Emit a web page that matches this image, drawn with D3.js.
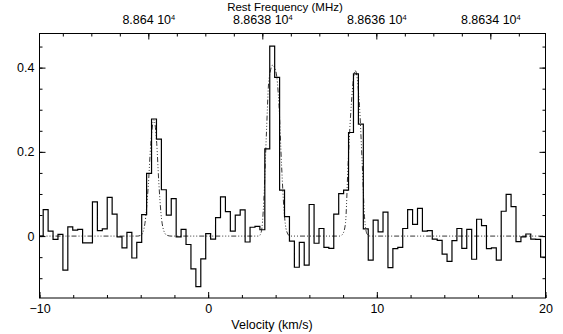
<!DOCTYPE html>
<html>
<head>
<meta charset="utf-8">
<script src="https://cdn.jsdelivr.net/npm/d3@7"></script>
<style>
  html, body { margin: 0; padding: 0; background: #fff; }
  svg text { font-family: "Liberation Sans", Arial, Helvetica, sans-serif; fill: #000; }
</style>
</head>
<body>
<svg id="chart" width="563" height="334"></svg>
<script>
// spectrum channels (km/s): first channel left edge and width
const chanStart = -10.073;
const chanWidth = 0.292;
const spectrum = [
  0.0, 0.063, 0.012, -0.008, 0.004, -0.081, 0.022, 0.014, 0.016, -0.016,
  -0.016, 0.081, 0.013, 0.017, 0.092, 0.052, -0.002, -0.028, 0.009, -0.052,
  -0.015, 0.051, 0.149, 0.278, 0.230, 0.110, 0.050, 0.089, -0.002, 0.016,
  -0.020, -0.078, -0.120, -0.054, 0.006, -0.007, 0.044, 0.093, 0.058, 0.012,
  0.050, 0.062, -0.014, 0.021, 0.023, 0.015, 0.207, 0.451, 0.377, 0.109,
  0.046, -0.012, -0.074, -0.015, -0.069, 0.075, -0.017, 0.018, -0.027, -0.029,
  0.052, 0.101, 0.109, 0.246, 0.385, 0.266, 0.017, -0.057, 0.038, 0.010,
  0.057, -0.075, -0.030, -0.027, 0.018, 0.063, 0.028, 0.066, 0.012, 0.013,
  -0.007, -0.010, -0.043, -0.060, -0.011, 0.018, -0.029, 0.016, -0.055, 0.040,
  0.025, -0.030, -0.028, -0.057, 0.059, 0.099, 0.070, -0.013, -0.002, 0.005,
  -0.007, -0.008, -0.050
];

// hyperfine fit
const fitVel = [
  -10, -4.2, -3.95, -3.75, -3.55, -3.4, -3.22, -3.05, -2.93, -2.8, -2.65, -2.45, -2.2,
  3.0, 3.15, 3.3, 3.45, 3.6, 3.83, 4.02, 4.2, 4.35, 4.5, 4.65, 4.85,
  7.8, 7.98, 8.14, 8.3, 8.45, 8.72, 8.97, 9.13, 9.28, 9.42, 9.6, 20
];
const fitVal = [
  0, 0, 0.003, 0.03, 0.12, 0.22, 0.276, 0.22, 0.13, 0.055, 0.015, 0.002, 0,
  0, 0.01, 0.085, 0.24, 0.37, 0.406, 0.39, 0.31, 0.17, 0.06, 0.012, 0,
  0, 0.005, 0.03, 0.175, 0.29, 0.393, 0.31, 0.175, 0.04, 0.005, 0, 0
];

const velTicks = [-10, 0, 10, 20];
const freqTicks = [88640, 88638, 88636, 88634];
const yTicks = [0, 0.2, 0.4];

const W = 563, H = 334;
const m = { left: 39.5, right: 17.5, top: 33.5, bottom: 36 };
const iw = W - m.left - m.right, ih = H - m.top - m.bottom;
const FS = 12.5;

const svg = d3.select('#chart');
const g = svg.append('g').attr('transform', `translate(${m.left},${m.top})`);

const x = d3.scaleLinear().domain([-10, 20]).range([0, iw]);
const xf = d3.scaleLinear().domain([88641.909, 88633.032]).range([0, iw]);
const y = d3.scaleLinear().domain([-0.147, 0.481]).range([ih, 0]);

g.append('clipPath').attr('id', 'clip')
  .append('rect').attr('width', iw).attr('height', ih);

// axes: inward ticks, major + minor
function styleAxis(sel) {
  sel.select('.domain').remove();
  sel.selectAll('line').attr('stroke', '#000').attr('stroke-width', 1);
  sel.selectAll('text').attr('font-size', FS);
}

const minorV = d3.range(-10, 20.01, 2);
g.append('g').attr('transform', `translate(0,${ih})`)
  .call(d3.axisBottom(x).tickValues(minorV).tickSize(-3).tickFormat(''))
  .call(styleAxis);
g.append('g').attr('transform', `translate(0,${ih})`)
  .call(d3.axisBottom(x).tickValues(velTicks).tickSize(-6).tickPadding(6)
    .tickFormat((d) => d < 0 ? '\u2212' + Math.abs(d) : d))
  .call(styleAxis);

const minorF = d3.range(88633.5, 88641.9, 0.5);
g.append('g')
  .call(d3.axisTop(xf).tickValues(minorF).tickSize(-3).tickFormat(''))
  .call(styleAxis);
const topAx = g.append('g')
  .call(d3.axisTop(xf).tickValues(freqTicks).tickSize(-6).tickPadding(10).tickFormat(''))
  .call(styleAxis);
topAx.selectAll('.tick text').each(function (d) {
  const t = d3.select(this);
  t.append('tspan').text(String(+(d / 1e4).toFixed(4)) + ' 10');
  t.append('tspan').attr('dy', -3.5).attr('font-size', 7.5).text('4');
});

const minorY = d3.range(-0.1, 0.46, 0.05);
[0, iw].forEach((xx, i) => {
  const mk = i === 0 ? d3.axisLeft : d3.axisRight;
  g.append('g').attr('transform', `translate(${xx},0)`)
    .call(mk(y).tickValues(minorY).tickSize(-3).tickFormat(''))
    .call(styleAxis);
  g.append('g').attr('transform', `translate(${xx},0)`)
    .call(mk(y).tickValues(yTicks).tickSize(-6).tickPadding(i === 0 ? 5 : 0)
      .tickFormat(i === 0 ? (d) => d : ''))
    .call(styleAxis);
});

// spectrum as a histogram
const steps = spectrum.map((v, i) => [chanStart + i * chanWidth, v]);
steps.push([chanStart + spectrum.length * chanWidth, spectrum[spectrum.length - 1]]);
g.append('path')
  .datum(steps)
  .attr('clip-path', 'url(#clip)')
  .attr('fill', 'none')
  .attr('stroke', '#000')
  .attr('stroke-width', 1.2)
  .attr('d', d3.line().x((d) => x(d[0])).y((d) => y(d[1])).curve(d3.curveStepAfter));

// fit curve
g.append('path')
  .datum(fitVel.map((v, i) => [v, fitVal[i]]))
  .attr('clip-path', 'url(#clip)')
  .attr('fill', 'none')
  .attr('stroke', '#000')
  .attr('stroke-width', 0.8)
  .attr('stroke-dasharray', '5,2,1,2,1,2,1,2')
  .attr('d', d3.line().x((d) => x(d[0])).y((d) => y(d[1])).curve(d3.curveMonotoneX));

// frame
g.append('rect').attr('width', iw).attr('height', ih)
  .attr('fill', 'none').attr('stroke', '#000').attr('stroke-width', 1);

svg.append('text').attr('x', 272).attr('y', 329).attr('text-anchor', 'middle')
  .attr('font-size', FS).text('Velocity (km/s)');
svg.append('text').attr('x', 285).attr('y', 10.5).attr('text-anchor', 'middle')
  .attr('font-size', 11.5).text('Rest Frequency (MHz)');
</script>
</body>
</html>
